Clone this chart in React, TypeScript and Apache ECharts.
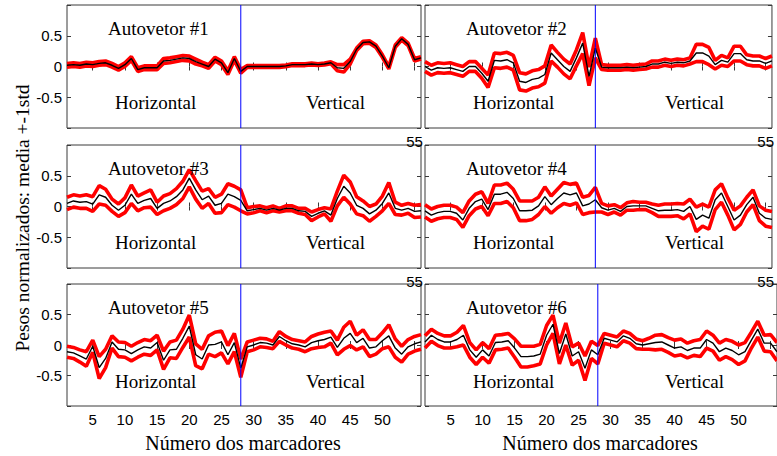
import React, { useEffect, useRef } from "react";
import * as echarts from "echarts";

// marker numbers (x axis)
const markers: number[] = [
  1, 2, 3, 4, 5, 6, 7, 8, 9, 10, 11, 12, 13, 14, 15, 16, 17, 18, 19, 20,
  21, 22, 23, 24, 25, 26, 27, 28, 29, 30, 31, 32, 33, 34, 35, 36, 37, 38, 39, 40,
  41, 42, 43, 44, 45, 46, 47, 48, 49, 50, 51, 52, 53, 54, 55, 56,
];

const xTickValues: number[] = [5, 10, 15, 20, 25, 30, 35, 40, 45, 50, 55];
const bottomLabelValues: number[] = [5, 10, 15, 20, 25, 30, 35, 40, 45, 50];
const hiddenLabelValues: number[] = [55];
const yLabelValues: number[] = [-0.5, 0, 0.5];
const splitMarker = 28;
const splitSpan: number[] = [-1, 1];

const titles: string[] = ["Autovetor #1", "Autovetor #2", "Autovetor #3", "Autovetor #4", "Autovetor #5", "Autovetor #6"];

const mean1: number[] = [
  0.02, 0.03, 0.02, 0.04, 0.03, 0.05, 0.06, 0.02, -0.03, 0.03, 0.13, -0.05, -0.02, -0.02, -0.02, 0.09,
  0.1, 0.12, 0.14, 0.13, 0.08, 0.04, 0.0, 0.12, 0.06, -0.1, 0.13, -0.08, 0.0, 0.0, 0.0, 0.0,
  0.0, 0.0, 0.01, 0.03, 0.03, 0.03, 0.04, 0.03, 0.04, 0.06, -0.02, -0.03, 0.08, 0.28, 0.39, 0.4,
  0.33, 0.17, -0.02, 0.33, 0.45, 0.36, 0.11, 0.14,
];
const std1: number[] = [
  0.03, 0.03, 0.03, 0.03, 0.03, 0.03, 0.03, 0.03, 0.03, 0.03, 0.03, 0.03, 0.03, 0.03, 0.03, 0.04,
  0.04, 0.04, 0.04, 0.04, 0.04, 0.03, 0.03, 0.03, 0.03, 0.03, 0.03, 0.03, 0.015, 0.015, 0.015, 0.015,
  0.015, 0.015, 0.015, 0.015, 0.015, 0.015, 0.015, 0.015, 0.015, 0.015, 0.05, 0.06, 0.04, 0.02, 0.02, 0.02,
  0.02, 0.02, 0.02, 0.02, 0.02, 0.02, 0.02, 0.02,
];

const mean2: number[] = [
  0.0, -0.06, -0.02, -0.03, -0.02, -0.05, -0.08, 0.0, 0.0, -0.11, -0.24, 0.1, 0.09, 0.11, 0.06, -0.24,
  -0.26, -0.21, -0.19, -0.13, 0.22, 0.11, 0.0, -0.08, 0.14, 0.38, -0.16, 0.3, -0.01, -0.02, -0.02, -0.02,
  -0.01, -0.02, -0.01, 0.0, 0.04, 0.04, 0.07, 0.05, 0.07, 0.06, 0.09, 0.22, 0.22, 0.17, 0.03, 0.1,
  0.07, 0.21, 0.21, 0.11, 0.09, 0.09, 0.05, 0.09,
];
const std2: number[] = [
  0.08, 0.08, 0.08, 0.08, 0.08, 0.08, 0.08, 0.08, 0.08, 0.08, 0.1, 0.12, 0.12, 0.12, 0.12, 0.14,
  0.14, 0.14, 0.14, 0.14, 0.13, 0.12, 0.12, 0.12, 0.13, 0.17, 0.15, 0.16, 0.04, 0.04, 0.04, 0.04,
  0.04, 0.04, 0.04, 0.04, 0.05, 0.05, 0.05, 0.05, 0.05, 0.05, 0.05, 0.14, 0.14, 0.14, 0.07, 0.08,
  0.07, 0.12, 0.12, 0.08, 0.08, 0.08, 0.08, 0.08,
];

const mean3: number[] = [
  0.05, 0.09, 0.07, 0.08, 0.04, 0.19, 0.15, 0.02, -0.06, 0.02, 0.2, 0.05, 0.1, 0.13, -0.03, 0.05,
  0.09, 0.16, 0.27, 0.46, 0.27, 0.11, 0.17, 0.02, 0.05, 0.2, 0.16, 0.1, -0.07, -0.05, -0.03, -0.06,
  -0.03, -0.06, -0.03, -0.03, -0.07, -0.08, -0.16, -0.11, -0.07, -0.14, 0.13, 0.33, 0.22, 0.02, -0.03, -0.12,
  -0.06, 0.05, 0.22, -0.03, -0.06, -0.03, -0.08, -0.07,
];
const std3: number[] = [
  0.1, 0.1, 0.1, 0.11, 0.12, 0.15, 0.13, 0.1, 0.1, 0.12, 0.15, 0.12, 0.12, 0.14, 0.1, 0.12,
  0.12, 0.13, 0.14, 0.14, 0.15, 0.14, 0.12, 0.13, 0.15, 0.17, 0.17, 0.17, 0.05, 0.05, 0.04, 0.04,
  0.04, 0.03, 0.04, 0.04, 0.04, 0.05, 0.07, 0.06, 0.05, 0.1, 0.12, 0.18, 0.18, 0.14, 0.12, 0.12,
  0.1, 0.12, 0.17, 0.1, 0.08, 0.08, 0.1, 0.1,
];

const mean4: number[] = [
  -0.07, -0.14, -0.1, -0.08, -0.08, -0.11, -0.22, -0.03, 0.08, 0.12, -0.05, 0.2, 0.2, 0.23, 0.13, -0.07,
  -0.07, -0.06, 0.01, 0.16, 0.03, 0.13, 0.22, 0.19, 0.22, 0.01, 0.04, 0.11, -0.02, -0.06, -0.03, -0.08,
  0.0, 0.01, 0.01, 0.01, -0.03, -0.07, -0.06, -0.06, -0.05, -0.08, 0.0, -0.21, -0.14, -0.19, 0.11, 0.22,
  0.0, -0.22, -0.14, 0.03, 0.15, -0.11, -0.19, -0.21,
];
const std4: number[] = [
  0.1, 0.1, 0.1, 0.1, 0.1, 0.1, 0.12, 0.12, 0.12, 0.12, 0.1, 0.15, 0.15, 0.15, 0.15, 0.16,
  0.16, 0.15, 0.14, 0.16, 0.14, 0.15, 0.17, 0.17, 0.16, 0.14, 0.14, 0.2, 0.07, 0.07, 0.06, 0.06,
  0.06, 0.07, 0.06, 0.06, 0.07, 0.09, 0.1, 0.1, 0.1, 0.12, 0.12, 0.2, 0.18, 0.18, 0.16, 0.15,
  0.14, 0.16, 0.15, 0.12, 0.12, 0.12, 0.13, 0.13,
];

const mean5: number[] = [
  -0.11, -0.13, -0.18, -0.23, -0.02, -0.37, -0.22, 0.05, -0.07, -0.08, -0.14, -0.08, -0.03, -0.05, 0.04, -0.25,
  -0.08, -0.07, 0.11, 0.31, -0.16, -0.23, 0.0, 0.01, 0.05, -0.16, 0.04, -0.38, -0.03, 0.0, 0.04, 0.03,
  0.0, 0.14, 0.07, 0.02, 0.0, -0.03, 0.04, 0.07, 0.09, 0.13, -0.04, 0.11, 0.19, 0.04, 0.11, -0.05,
  -0.03, 0.07, 0.15, -0.05, -0.15, -0.03, 0.02, 0.05,
];
const std5: number[] = [
  0.09, 0.09, 0.1, 0.12, 0.1, 0.18, 0.15, 0.1, 0.12, 0.12, 0.12, 0.12, 0.12, 0.12, 0.12, 0.15,
  0.13, 0.15, 0.15, 0.18, 0.18, 0.16, 0.15, 0.2, 0.18, 0.15, 0.15, 0.15, 0.08, 0.08, 0.07, 0.07,
  0.06, 0.08, 0.07, 0.07, 0.07, 0.08, 0.1, 0.11, 0.12, 0.1, 0.12, 0.18, 0.2, 0.12, 0.14, 0.14,
  0.12, 0.13, 0.18, 0.15, 0.13, 0.12, 0.12, 0.12,
];

const mean6: number[] = [
  0.05, 0.16, 0.09, 0.05, 0.05, 0.09, 0.16, -0.08, -0.2, -0.08, -0.18, 0.04, 0.05, 0.07, -0.05, -0.19,
  -0.19, -0.18, -0.15, 0.16, 0.34, -0.14, 0.18, -0.18, -0.11, -0.38, -0.08, -0.16, 0.11, 0.08, 0.05, 0.15,
  0.11, 0.02, 0.0, 0.02, 0.04, 0.05, 0.0, -0.05, -0.03, -0.09, -0.05, -0.05, 0.09, 0.03, -0.11, -0.05,
  -0.09, -0.16, -0.11, 0.08, 0.26, 0.03, 0.03, -0.11,
];
const std6: number[] = [
  0.1, 0.1, 0.1, 0.1, 0.1, 0.12, 0.16, 0.12, 0.12, 0.12, 0.12, 0.12, 0.12, 0.12, 0.15, 0.17,
  0.17, 0.16, 0.16, 0.16, 0.15, 0.17, 0.18, 0.15, 0.14, 0.2, 0.14, 0.15, 0.08, 0.08, 0.08, 0.08,
  0.08, 0.08, 0.07, 0.09, 0.12, 0.12, 0.12, 0.13, 0.13, 0.12, 0.12, 0.14, 0.14, 0.13, 0.14, 0.14,
  0.15, 0.16, 0.15, 0.13, 0.13, 0.13, 0.14, 0.15,
];

const means: number[][] = [mean1, mean2, mean3, mean4, mean5, mean6];
const stds: number[][] = [std1, std2, std3, std4, std5, std6];

// layout
const colLeft = [67, 425];
const colWidth = [354, 353];
const rowTop = [5, 145, 284];
const rowHeight = [123, 123, 122];

const SERIF = "'Liberation Serif', 'Times New Roman', serif";
const SANS = "'Liberation Sans', Arial, sans-serif";

function buildOption() {
  const grid: any[] = [];
  const xAxis: any[] = [];
  const yAxis: any[] = [];
  const series: any[] = [];
  const graphic: any[] = [];

  for (let k = 0; k < 6; k++) {
    const r = Math.floor(k / 2);
    const c = k % 2;
    grid.push({
      left: colLeft[c],
      top: rowTop[r],
      width: colWidth[c],
      height: rowHeight[r],
      show: true,
      borderColor: "#3a3a3a",
      borderWidth: 1,
      backgroundColor: "transparent",
      containLabel: false,
    });
    const isBottom = r === 2;
    xAxis.push({
      type: "value",
      gridIndex: k,
      position: "bottom",
      min: 1,
      max: 56,
      axisLine: { show: false },
      splitLine: { show: false },
      axisTick: { show: true, inside: true, length: 4, customValues: xTickValues, lineStyle: { color: "#3a3a3a" } },
      axisLabel: {
        show: true,
        customValues: isBottom ? bottomLabelValues : hiddenLabelValues,
        margin: 6,
        color: "#000",
        fontSize: 15,
        fontFamily: SANS,
      },
    });
    xAxis.push({
      type: "value",
      gridIndex: k,
      position: "top",
      min: 1,
      max: 56,
      axisLine: { show: false },
      splitLine: { show: false },
      axisTick: { show: true, inside: true, length: 4, customValues: xTickValues, lineStyle: { color: "#3a3a3a" } },
      axisLabel: { show: false },
    });
    yAxis.push({
      type: "value",
      gridIndex: k,
      position: "left",
      min: -1,
      max: 1,
      interval: 0.5,
      axisLine: { show: false },
      splitLine: { show: false },
      axisTick: { show: true, inside: true, length: 4, lineStyle: { color: "#3a3a3a" } },
      axisLabel: {
        show: c === 0,
        customValues: yLabelValues,
        margin: 5,
        color: "#000",
        fontSize: 15,
        fontFamily: SANS,
      },
    });
    yAxis.push({
      type: "value",
      gridIndex: k,
      position: "right",
      min: -1,
      max: 1,
      interval: 0.5,
      axisLine: { show: false },
      splitLine: { show: false },
      axisTick: { show: true, inside: true, length: 4, lineStyle: { color: "#3a3a3a" } },
      axisLabel: { show: false },
    });

    const m = means[k];
    const s = stds[k];
    const upper = markers.map((x, i) => [x, +(m[i] + s[i]).toFixed(3)]);
    const lower = markers.map((x, i) => [x, +(m[i] - s[i]).toFixed(3)]);
    const mid = markers.map((x, i) => [x, m[i]]);
    const xi = k * 2;
    const yi = k * 2;
    series.push({
      type: "line",
      xAxisIndex: xi,
      yAxisIndex: yi,
      data: upper,
      symbol: "none",
      color: "#ff0000",
      lineStyle: { color: "#ff0000", width: 3.6 },
      z: 2,
    });
    series.push({
      type: "line",
      xAxisIndex: xi,
      yAxisIndex: yi,
      data: lower,
      symbol: "none",
      color: "#ff0000",
      lineStyle: { color: "#ff0000", width: 3.6 },
      z: 2,
    });
    series.push({
      type: "line",
      xAxisIndex: xi,
      yAxisIndex: yi,
      data: mid,
      symbol: "none",
      color: "#000000",
      lineStyle: { color: "#000000", width: 1.4 },
      z: 3,
    });
    series.push({
      type: "line",
      xAxisIndex: xi,
      yAxisIndex: yi,
      data: splitSpan.map((v) => [splitMarker, v]),
      symbol: "none",
      color: "#0000ff",
      lineStyle: { color: "#0000ff", width: 1 },
      z: 4,
    });

    const top = rowTop[r];
    const tx = c === 0 ? [108, 115, 306] : [466, 473, 665];
    graphic.push({
      type: "text",
      left: tx[0],
      top: top + 14,
      z: 10,
      style: { text: titles[k], fontSize: 19, fontFamily: SERIF, fill: "#000" },
    });
    graphic.push({
      type: "text",
      left: tx[1],
      top: top + 88,
      z: 10,
      style: { text: "Horizontal", fontSize: 19, fontFamily: SERIF, fill: "#000" },
    });
    graphic.push({
      type: "text",
      left: tx[2],
      top: top + 88,
      z: 10,
      style: { text: "Vertical", fontSize: 19, fontFamily: SERIF, fill: "#000" },
    });
  }

  graphic.push({
    type: "text",
    x: 22,
    y: 218,
    rotation: Math.PI / 2,
    style: {
      text: "Pesos normalizados: media +-1std",
      fontSize: 19.5,
      fontFamily: SERIF,
      fill: "#000",
      align: "center",
      verticalAlign: "middle",
    },
  });
  graphic.push({
    type: "text",
    x: 243,
    y: 443,
    style: { text: "Número dos marcadores", fontSize: 20, fontFamily: SERIF, fill: "#000", align: "center", verticalAlign: "middle" },
  });
  graphic.push({
    type: "text",
    x: 600,
    y: 443,
    style: { text: "Número dos marcadores", fontSize: 20, fontFamily: SERIF, fill: "#000", align: "center", verticalAlign: "middle" },
  });

  return {
    animation: false,
    backgroundColor: "#ffffff",
    grid,
    xAxis,
    yAxis,
    series,
    graphic,
  };
}

export default function App() {
  const ref = useRef<HTMLDivElement>(null);
  useEffect(() => {
    document.body.style.margin = "0";
    if (!ref.current) return;
    const chart = echarts.init(ref.current, null, { renderer: "svg" });
    chart.setOption(buildOption() as any);
    return () => chart.dispose();
  }, []);
  return (
    <div
      ref={ref}
      style={{ position: "absolute", left: 0, top: 0, width: 777, height: 456, background: "#fff" }}
    />
  );
}
